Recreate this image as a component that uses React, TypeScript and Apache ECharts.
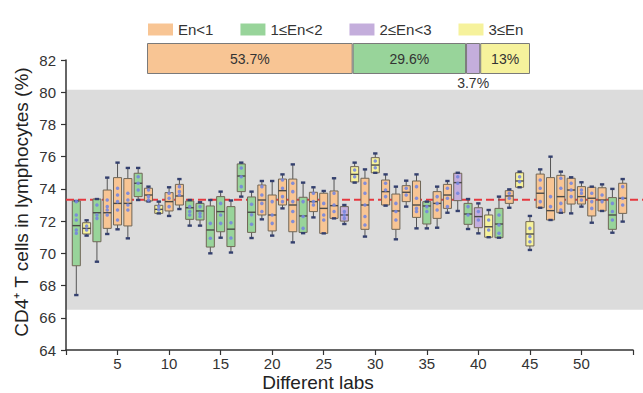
import React, { useEffect, useRef } from "react";
import * as echarts from "echarts";

// Categories of En (legend + stacked share bar)
const groupNames = ["En<1", "1≤En<2", "2≤En<3", "3≤En"];
const groupColors = ["#F8C594", "#98D49A", "#C4AEDC", "#F6F29C"];
const groupShares = [53.7, 29.6, 3.7, 13];

// Lab index 1..54 -> group index
const labGroup = [
  1, 3, 1, 0, 0, 0, 1, 0, 3, 0,
  0, 1, 1, 1, 1, 1, 1, 1, 0, 0,
  0, 0, 1, 0, 0, 0, 2, 3, 0, 3,
  0, 0, 0, 0, 1, 0, 0, 2, 1, 2,
  3, 1, 0, 3, 3, 0, 0, 0, 0, 0,
  0, 0, 1, 0,
];

const mins = [
  67.41, 71.1, 69.48, 71.2, 71.49, 70.93, 73.31, 73.22, 72.48, 72.32,
  72.75, 71.72, 71.72, 70.0, 70.97, 70.05, 73.52, 70.95, 72.11, 71.1,
  72.79, 70.68, 71.25, 72.23, 71.24, 72.17, 71.82, 74.39, 71.04, 75.0,
  72.96, 70.87, 72.9, 71.55, 71.55, 71.59, 72.52, 72.63, 71.51, 71.24,
  71.0, 70.97, 72.83, 74.1, 70.21, 72.83, 72.07, 72.52, 72.48, 72.9,
  71.9, 72.63, 71.28, 71.97,
];
const q1s = [
  69.23, 71.2, 70.72, 71.55, 71.76, 71.7, 73.52, 73.25, 72.48, 72.63,
  73.0, 72.11, 72.07, 70.39, 71.34, 70.42, 73.83, 71.3, 72.38, 71.39,
  73.0, 71.34, 71.3, 72.59, 71.24, 72.17, 72.0, 74.43, 71.49, 75.0,
  73.0, 71.49, 73.21, 72.23, 71.82, 72.17, 72.79, 73.27, 71.8, 71.59,
  71.0, 70.97, 73.1, 74.1, 70.46, 72.83, 72.07, 72.52, 73.06, 73.06,
  72.32, 72.63, 71.49, 72.48,
];
const medians = [
  71.72, 71.55, 72.52, 72.52, 73.1, 73.1, 74.35, 73.62, 72.73, 73.21,
  73.56, 72.83, 72.63, 71.45, 72.59, 71.5, 74.8, 72.55, 73.31, 72.38,
  73.89, 73.0, 72.32, 73.21, 72.79, 72.96, 72.38, 74.9, 73.0, 75.48,
  73.83, 72.63, 73.79, 73.0, 72.94, 73.1, 73.62, 74.39, 72.44, 72.28,
  71.65, 71.82, 73.56, 74.49, 71.2, 73.73, 72.65, 73.52, 73.93, 73.52,
  73.42, 73.31, 72.38, 73.42,
];
const q3s = [
  73.25, 71.9, 73.37, 73.93, 74.7, 74.64, 74.97, 74.04, 72.98, 73.77,
  74.28, 73.25, 73.1, 72.94, 73.52, 72.9, 75.55, 73.5, 74.24, 73.62,
  74.61, 74.61, 73.48, 73.79, 73.73, 73.87, 72.9, 75.38, 74.66, 75.94,
  74.55, 73.68, 74.2, 74.49, 73.21, 73.83, 74.28, 74.97, 73.1, 72.83,
  72.38, 72.79, 73.89, 75.0, 71.97, 74.92, 74.7, 74.84, 74.66, 74.14,
  74.1, 74.07, 73.46, 74.35,
];
const maxs = [
  73.25, 72.05, 73.37, 74.7, 75.63, 75.3, 75.3, 74.14, 73.21, 74.1,
  74.61, 73.31, 73.17, 73.31, 73.83, 73.28, 75.63, 73.83, 74.49, 74.49,
  74.9, 75.52, 74.39, 74.1, 73.87, 74.66, 73.0, 75.63, 75.21, 76.2,
  74.9, 74.14, 74.51, 74.9, 73.21, 74.14, 74.49, 75.0, 73.37, 73.1,
  72.69, 73.52, 73.97, 75.07, 72.32, 75.21, 76.0, 75.07, 74.72, 74.41,
  74.14, 74.28, 74.0, 74.61,
];

// individual lab results (blue dots)
const labPoints = [
  [73.21, 72.38, 72.07, 71.45, 71.24], [71.7, 71.45], [73.0, 72.38, 72.17],
  [73.31, 72.9, 72.69, 72.38], [74.04, 73.62, 73.21, 72.69, 72.07], [73.73, 73.31, 73.0, 72.69],
  [74.76, 74.35, 73.93], [73.93, 73.52, 73.31], [72.9, 72.69],
  [73.73, 73.42, 72.9], [74.14, 73.83, 73.62], [72.9, 72.59, 72.38],
  [72.9, 72.48, 72.28], [71.86, 70.93], [73.1, 72.38, 71.86],
  [71.9, 70.95], [75.3, 74.76, 74.14], [73.05, 72.4, 71.8],
  [74.14, 73.62, 73.1, 72.59], [73.21, 72.38, 71.86], [74.55, 74.04, 73.52, 73.21],
  [74.35, 73.83, 73.21, 72.59, 71.97], [73.21, 72.28, 71.55], [73.73, 73.21, 73.0],
  [73.1, 72.38, 72.07], [73.73, 73.0, 72.59], [72.59, 72.38, 72.17],
  [75.17, 74.76], [74.35, 73.73, 73.0, 72.28, 71.76], [75.73, 75.31],
  [74.35, 73.93, 73.52], [73.1, 72.59, 72.07], [74.04, 73.62],
  [74.14, 73.42, 72.79, 72.59], [72.9, 72.59], [73.52, 73.1, 72.69],
  [74.04, 73.42, 72.9], [74.76, 74.35, 73.73], [72.9, 72.38],
  [72.59, 72.07], [72.07, 71.45], [72.38, 71.76, 71.24],
  [73.73, 73.42], [74.76, 74.45], [71.55, 71.04, 70.72],
  [74.55, 74.04, 73.21], [73.52, 72.9], [74.66, 74.04, 73.1, 72.69],
  [74.35, 73.93, 73.52], [73.93, 73.73, 73.31], [73.73, 73.21, 72.79],
  [73.62, 73.21], [73.1, 72.59, 72.07], [74.14, 73.42, 73.0],
];

const yTicks = { min: 64, max: 82, interval: 2 };
const xTicks = { min: 0, max: 55, interval: 5 };
const bandLow = 66.5;
const bandHigh = 80.15;
const refValue = 73.33;

const FONT = "Arial, 'Liberation Sans', Helvetica, sans-serif";

export default function App() {
  const ref = useRef<HTMLDivElement>(null);

  useEffect(() => {
    document.body.style.margin = "0";
    if (!ref.current) return;
    const chart = echarts.init(ref.current, undefined, { renderer: "svg" });

    const boxData = mins.map((mn, i) => [i + 1, mn, q1s[i], medians[i], q3s[i], maxs[i], labGroup[i]]);
    const dotData: number[][] = [];
    labPoints.forEach((pts, i) => pts.forEach((v) => dotData.push([i + 1, v])));

    const option: any = {
      animation: false,
      textStyle: { fontFamily: FONT },
      legend: {
        top: 17,
        left: 143,
        itemWidth: 25,
        itemHeight: 12,
        itemGap: 27,
        icon: "rect",
        itemStyle: { borderWidth: 0 },
        textStyle: { fontSize: 15, color: "#333", fontFamily: FONT },
        data: groupNames,
        selectedMode: false,
      },
      grid: [
        { left: 66, right: 10, top: 60, bottom: 43 },
        { left: 147, width: 383, top: 43, height: 31 },
      ],
      xAxis: [
        {
          type: "value",
          gridIndex: 0,
          min: xTicks.min,
          max: xTicks.max,
          interval: xTicks.interval,
          splitLine: { show: false },
          axisLine: { show: true, onZero: false, lineStyle: { color: "#333", width: 1.5 } },
          axisTick: { show: true, length: 5, lineStyle: { color: "#333", width: 1.2 } },
          axisLabel: {
            fontSize: 15,
            color: "#333",
            margin: 6,
            fontFamily: FONT,
            formatter: (v: number) => (v === 0 || v === 55 ? "" : String(v)),
          },
        },
        { type: "value", gridIndex: 1, min: 0, max: 100, show: false },
      ],
      yAxis: [
        {
          type: "value",
          gridIndex: 0,
          min: yTicks.min,
          max: yTicks.max,
          interval: yTicks.interval,
          splitLine: { show: false },
          axisLine: { show: true, lineStyle: { color: "#333", width: 1.5 } },
          axisTick: { show: true, length: 5, lineStyle: { color: "#333", width: 1.2 } },
          axisLabel: { fontSize: 15, color: "#333", margin: 10, fontFamily: FONT },
        },
        { type: "category", gridIndex: 1, data: [""], show: false },
      ],
      series: [
        {
          type: "custom",
          name: "labs",
          xAxisIndex: 0,
          yAxisIndex: 0,
          data: boxData,
          encode: { x: 0, y: [1, 2, 3, 4, 5] },
          z: 3,
          renderItem: (params: any, api: any) => {
            const x = api.value(0);
            const lo = api.coord([x, api.value(1)]);
            const b1 = api.coord([x, api.value(2)]);
            const md = api.coord([x, api.value(3)]);
            const b3 = api.coord([x, api.value(4)]);
            const hi = api.coord([x, api.value(5)]);
            const g = api.value(6);
            const bw = api.size([0.78, 0])[0];
            const cw = api.size([0.42, 0])[0];
            const cx = lo[0];
            const whisk = { stroke: "#555", lineWidth: 1 };
            const cap = { stroke: "#34406E", lineWidth: 2.4 };
            return {
              type: "group",
              children: [
                { type: "line", shape: { x1: cx, y1: lo[1], x2: cx, y2: b1[1] }, style: whisk },
                { type: "line", shape: { x1: cx, y1: b3[1], x2: cx, y2: hi[1] }, style: whisk },
                {
                  type: "rect",
                  shape: { x: cx - bw / 2, y: b3[1], width: bw, height: Math.max(b1[1] - b3[1], 1) },
                  style: { fill: groupColors[g], stroke: "#706656", lineWidth: 1 },
                },
                { type: "line", shape: { x1: cx - bw / 2, y1: md[1], x2: cx + bw / 2, y2: md[1] }, style: { stroke: "#4A4A4A", lineWidth: 1.4 } },
                { type: "line", shape: { x1: cx - cw / 2, y1: lo[1], x2: cx + cw / 2, y2: lo[1] }, style: cap },
                { type: "line", shape: { x1: cx - cw / 2, y1: hi[1], x2: cx + cw / 2, y2: hi[1] }, style: cap },
              ],
            };
          },
        },
        {
          type: "scatter",
          name: "points",
          xAxisIndex: 0,
          yAxisIndex: 0,
          data: dotData,
          symbol: "circle",
          symbolSize: 3.5,
          itemStyle: { color: "#7686DE", opacity: 0.9 },
          z: 4,
        },
        ...groupNames.map((name, i) => ({
          type: "bar",
          name,
          xAxisIndex: 1,
          yAxisIndex: 1,
          stack: "share",
          barWidth: 31,
          data: [groupShares[i]],
          itemStyle: { color: groupColors[i], borderColor: "#7A7A7A", borderWidth: 1 },
          label: {
            show: true,
            position: i === 2 ? "bottom" : "inside",
            distance: 2,
            formatter: (p: any) => `${p.value}%`,
            fontSize: 14,
            color: "#333",
            fontFamily: FONT,
          },
        })),
      ],
    };

    chart.setOption(option);

    const [xLeft, yTop] = chart.convertToPixel({ seriesIndex: 0 }, [xTicks.min, bandHigh]);
    const [, yBot] = chart.convertToPixel({ seriesIndex: 0 }, [xTicks.min, bandLow]);
    const [, yRef] = chart.convertToPixel({ seriesIndex: 0 }, [xTicks.min, refValue]);
    const [, yMid] = chart.convertToPixel({ seriesIndex: 0 }, [xTicks.min, 73]);

    chart.setOption({
      graphic: [
        {
          type: "rect",
          z: -10,
          silent: true,
          shape: { x: xLeft, y: yTop, width: 643 - xLeft, height: yBot - yTop },
          style: { fill: "#DCDCDC" },
        },
        {
          type: "line",
          z: 1,
          silent: true,
          shape: { x1: xLeft, y1: yRef, x2: 643, y2: yRef },
          style: { stroke: "#E5383F", lineWidth: 2, lineDash: [8, 4] },
        },
        {
          type: "text",
          x: 21,
          y: yMid - 3,
          rotation: Math.PI / 2,
          style: {
            text: "CD4⁺ T cells in lymphocytes (%)",
            font: `19px ${FONT}`,
            fill: "#222",
            align: "center",
            verticalAlign: "middle",
          },
        },
        {
          type: "text",
          x: 318,
          y: 382,
          style: {
            text: "Different labs",
            font: `19px ${FONT}`,
            fill: "#222",
            align: "center",
            verticalAlign: "middle",
          },
        },
      ],
    });

    return () => chart.dispose();
  }, []);

  return <div ref={ref} style={{ width: 643, height: 393 }} />;
}
